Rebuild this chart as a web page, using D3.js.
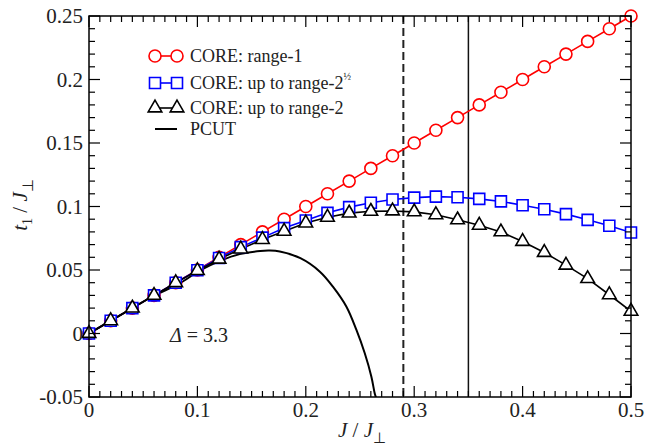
<!DOCTYPE html>
<html><head><meta charset="utf-8">
<script src="https://cdn.jsdelivr.net/npm/d3@7"></script>
</head>
<body style="margin:0">
<svg id="chart" width="646" height="448"></svg>
<script>
// ---- data ----
const jValues = [0,0.02,0.04,0.06,0.08,0.10,0.12,0.14,0.16,0.18,0.20,0.22,0.24,0.26,0.28,0.30,0.32,0.34,0.36,0.38,0.40,0.42,0.44,0.46,0.48,0.50];
const range1 = [0,0.01,0.02,0.03,0.04,0.05,0.06,0.07,0.08,0.09,0.10,0.11,0.12,0.13,0.14,0.15,0.16,0.17,0.18,0.19,0.20,0.21,0.22,0.23,0.24,0.25];
const range2half = [0,0.01,0.02,0.03,0.04,0.0498,0.0595,0.068,0.0755,0.083,0.089,0.095,0.0995,0.103,0.1055,0.107,0.1078,0.1073,0.106,0.104,0.101,0.0978,0.094,0.0895,0.0848,0.0795];
const range2 = [0,0.01,0.02,0.03,0.04,0.0495,0.0585,0.0665,0.074,0.0805,0.087,0.0915,0.0948,0.0962,0.0965,0.0958,0.0935,0.0895,0.0852,0.0800,0.0725,0.0638,0.0538,0.0432,0.0305,0.0175];
const pcutX = [0,0.02,0.04,0.06,0.084,0.102,0.121,0.139,0.158,0.167,0.176,0.195,0.213,0.225,0.2375,0.2467,0.2544,0.2605,0.2636,0.2648];
const pcutY = [0,0.01,0.02,0.0298,0.0396,0.0495,0.0572,0.0625,0.065,0.0653,0.0645,0.0593,0.0487,0.0369,0.0211,0.0028,-0.0156,-0.034,-0.0472,-0.0505];
const xTicks = [0,0.1,0.2,0.3,0.4,0.5];
const xTickLabels = ["0","0.1","0.2","0.3","0.4","0.5"];
const yTicks = [-0.05,0,0.05,0.1,0.15,0.2,0.25];
const yTickLabels = ["-0.05","0","0.05","0.1","0.15","0.2","0.25"];
const vLineDashed = 0.29;
const vLineSolid = 0.35;
const legendLabels = ["CORE: range-1","CORE: up to range-2","CORE: up to range-2","PCUT"];

// ---- layout ----
const L=89,R=631,T=16,B=397;
const svg = d3.select("#chart");
const x = d3.scaleLinear().domain([0,0.5]).range([L,R]);
const y = d3.scaleLinear().domain([-0.05,0.25]).range([B,T]);
const txtColor = "#222";
function txt(sel){ return sel.append("text").attr("font-family","Liberation Serif").style("font-family",'"Liberation Serif"').attr("fill",txtColor); }

svg.append("defs").append("clipPath").attr("id","clip")
  .append("rect").attr("x",L).attr("y",T).attr("width",R-L).attr("height",B-T);

// vertical reference lines
svg.append("line").attr("x1",x(vLineDashed)).attr("x2",x(vLineDashed)).attr("y1",T).attr("y2",B)
  .attr("stroke","#222").attr("stroke-width",2).attr("stroke-dasharray","8,4");
svg.append("line").attr("x1",x(vLineSolid)).attr("x2",x(vLineSolid)).attr("y1",T).attr("y2",B)
  .attr("stroke","#111").attr("stroke-width",1.5);

const lineGen = d3.line().x((d,i)=>x(jValues[i])).y(d=>y(d));
const plot = svg.append("g").attr("clip-path","url(#clip)");

function series(vals,color){
  plot.append("path").datum(vals).attr("d",lineGen).attr("fill","none")
    .attr("stroke",color).attr("stroke-width",1.6);
}
series(range1,"#ff0000");
series(range2half,"#0000ff");
series(range2,"#000");

const circ = d3.symbol().type(d3.symbolCircle).size(Math.PI*36);
const sq = d3.symbol().type(d3.symbolSquare).size(121);
const tri = d3.symbol().type(d3.symbolTriangle).size(80);

svg.append("g").selectAll("path").data(range1).join("path")
  .attr("d",circ).attr("transform",(d,i)=>`translate(${x(jValues[i])},${y(d)})`)
  .attr("fill","#fff").attr("stroke","#ff0000").attr("stroke-width",1.6);
svg.append("g").selectAll("path").data(range2half).join("path")
  .attr("d",sq).attr("transform",(d,i)=>`translate(${x(jValues[i])},${y(d)})`)
  .attr("fill","#fff").attr("stroke","#0000ff").attr("stroke-width",1.6);
svg.append("g").selectAll("path").data(range2).join("path")
  .attr("d",tri).attr("transform",(d,i)=>`translate(${x(jValues[i])},${y(d)})`)
  .attr("fill","#fff").attr("stroke","#000").attr("stroke-width",1.6);

// PCUT curve
plot.append("path").datum(pcutX.map((v,i)=>[v,pcutY[i]]))
  .attr("d",d3.line().x(d=>x(d[0])).y(d=>y(d[1])).curve(d3.curveCatmullRom))
  .attr("fill","none").attr("stroke","#000").attr("stroke-width",2);

// frame & ticks
svg.append("rect").attr("x",L).attr("y",T).attr("width",R-L).attr("height",B-T)
  .attr("fill","none").attr("stroke","#000").attr("stroke-width",1.5);

const xMinor = d3.range(0,51).map(i=>i/100);
const yMinor = d3.range(-5,26).map(i=>i/100);
const tk = svg.append("g").attr("stroke","#000").attr("stroke-width",1.2);
xMinor.forEach(v=>{
  const major = Math.abs(v*10-Math.round(v*10))<1e-6;
  const len = major?11:6;
  tk.append("line").attr("x1",x(v)).attr("x2",x(v)).attr("y1",B).attr("y2",B-len);
  tk.append("line").attr("x1",x(v)).attr("x2",x(v)).attr("y1",T).attr("y2",T+len);
});
yMinor.forEach(v=>{
  const major = Math.abs(v*20-Math.round(v*20))<1e-6;
  const len = major?11:6;
  tk.append("line").attr("y1",y(v)).attr("y2",y(v)).attr("x1",L).attr("x2",L+len);
  tk.append("line").attr("y1",y(v)).attr("y2",y(v)).attr("x1",R).attr("x2",R-len);
});

// tick labels
xTicks.forEach((d,i)=>{
  txt(svg).attr("x",x(d)).attr("y",B+20).attr("text-anchor","middle")
    .attr("font-size",21).text(xTickLabels[i]);
});
yTicks.forEach((d,i)=>{
  txt(svg).attr("x",L-6).attr("y",y(d)+7).attr("text-anchor","end")
    .attr("font-size",21).text(yTickLabels[i]);
});

// axis titles
const xt = txt(svg).attr("x",362).attr("y",437).attr("text-anchor","middle").attr("font-size",21);
xt.append("tspan").attr("font-style","italic").text("J");
xt.append("tspan").text(" / ");
xt.append("tspan").attr("font-style","italic").text("J");
xt.append("tspan").attr("font-size",15).attr("dy",6).text("⊥");

const yt = txt(svg).attr("transform","translate(27,205) rotate(-90)").attr("text-anchor","middle").attr("font-size",21);
yt.append("tspan").attr("font-style","italic").text("t");
yt.append("tspan").attr("font-size",14).attr("dy",5).text("1");
yt.append("tspan").attr("dy",-5).text(" / ");
yt.append("tspan").attr("font-style","italic").text("J");
yt.append("tspan").attr("font-size",15).attr("dy",6).text("⊥");

// delta label
const dl = txt(svg).attr("x",170).attr("y",342).attr("font-size",20);
dl.append("tspan").attr("font-style","italic").text("Δ");
dl.append("tspan").text(" = 3.3");

// legend
const lg = svg.append("g");
const rows = [56,83,108,129];
const lx1=155, lx2=177;
lg.append("line").attr("x1",lx1).attr("x2",lx2).attr("y1",rows[0]).attr("y2",rows[0]).attr("stroke","#ff0000").attr("stroke-width",1.6);
[lx1,lx2].forEach(px=>lg.append("path").attr("d",circ).attr("transform",`translate(${px},${rows[0]})`).attr("fill","#fff").attr("stroke","#ff0000").attr("stroke-width",1.6));
lg.append("line").attr("x1",lx1).attr("x2",lx2).attr("y1",rows[1]).attr("y2",rows[1]).attr("stroke","#0000ff").attr("stroke-width",1.6);
[lx1,lx2].forEach(px=>lg.append("path").attr("d",sq).attr("transform",`translate(${px},${rows[1]})`).attr("fill","#fff").attr("stroke","#0000ff").attr("stroke-width",1.6));
lg.append("line").attr("x1",lx1).attr("x2",lx2).attr("y1",rows[2]).attr("y2",rows[2]).attr("stroke","#000").attr("stroke-width",1.6);
[lx1,lx2].forEach(px=>lg.append("path").attr("d",tri).attr("transform",`translate(${px},${rows[2]})`).attr("fill","#fff").attr("stroke","#000").attr("stroke-width",1.6));
lg.append("line").attr("x1",lx1).attr("x2",lx2).attr("y1",rows[3]).attr("y2",rows[3]).attr("stroke","#000").attr("stroke-width",2);

rows.forEach((ry,i)=>{
  const t = txt(lg).attr("x",190).attr("y",ry+6).attr("font-size",18).text(legendLabels[i]);
  if(i===1){ t.append("tspan").attr("font-size",10).attr("dy",-9).text("½"); }
});
</script>
</body></html>
